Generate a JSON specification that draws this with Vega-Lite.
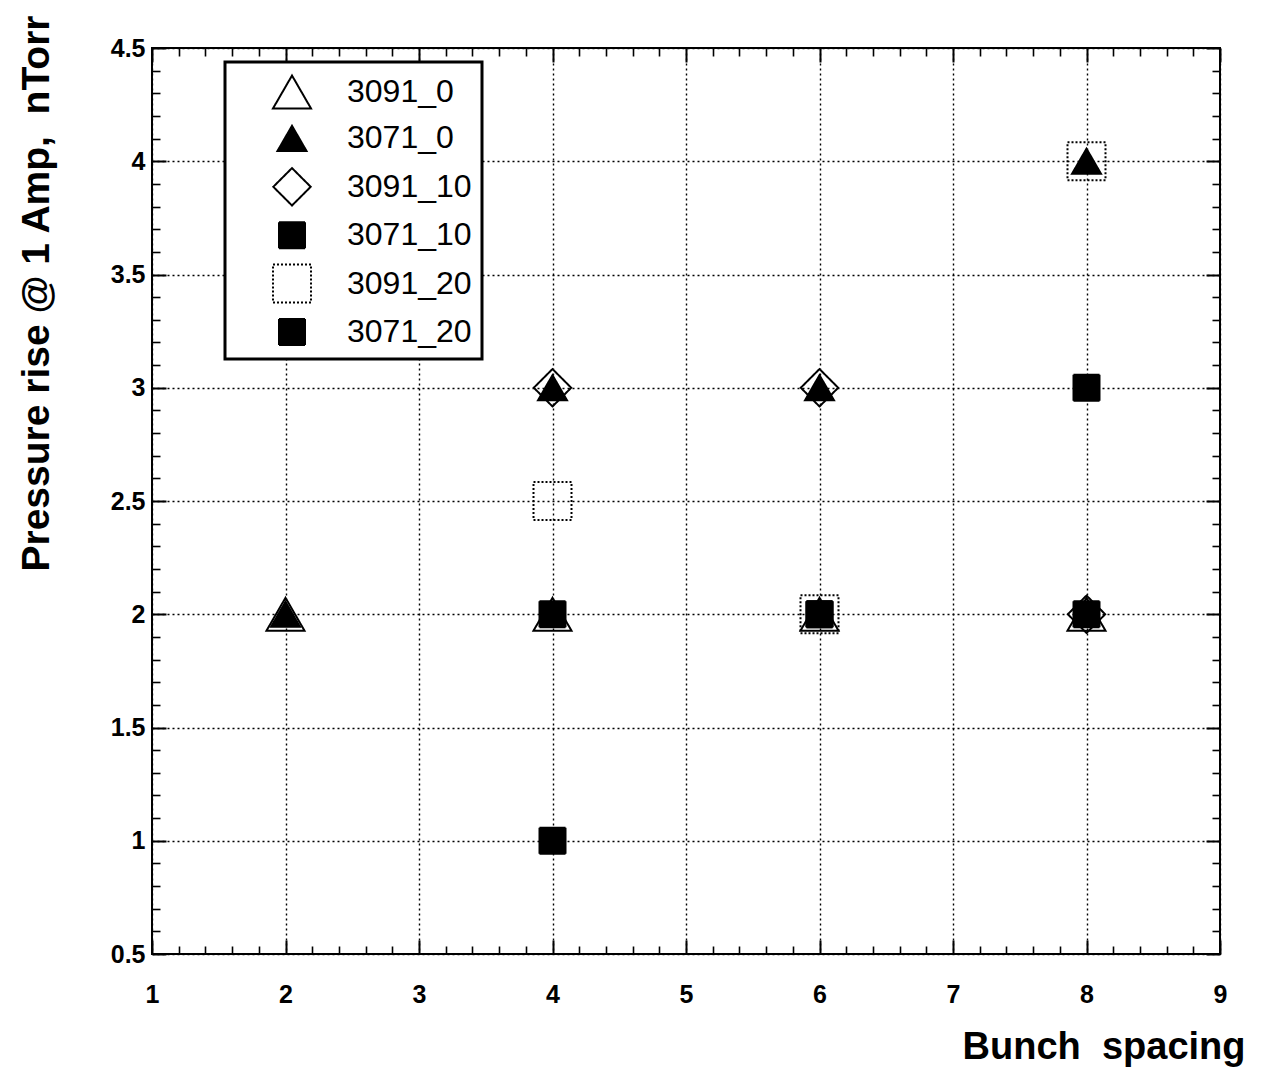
{
  "$schema": "https://vega.github.io/schema/vega-lite/v6.json",
  "autosize": {"type": "none"},
  "width": 1068,
  "height": 906,
  "padding": {"left": 152, "top": 48, "right": 46, "bottom": 124},
  "background": "white",
  "title": {"text": "Beginning of the study", "fontSize": 36, "fontWeight": "bold", "font": "Liberation Sans", "color": "black", "offset": 46, "baseline": "alphabetic", "dx": -21, "anchor": "middle"},
  "config": {
    "view": {"stroke": "black", "strokeWidth": 2},
    "font": "Liberation Sans",
    "axis": {"domain": false, "labelColor": "black", "titleColor": "black", "tickColor": "black"},
    "legend": {"strokeWidth": 3}
  },
  "data": {"values": [
    {"series": "3091_0", "x": 2, "y": 2},
    {"series": "3091_0", "x": 4, "y": 2},
    {"series": "3091_0", "x": 6, "y": 2},
    {"series": "3091_0", "x": 8, "y": 2},
    {"series": "3091_10", "x": 4, "y": 3},
    {"series": "3091_10", "x": 6, "y": 3},
    {"series": "3091_10", "x": 8, "y": 2},
    {"series": "3091_20", "x": 4, "y": 2.5},
    {"series": "3091_20", "x": 6, "y": 2},
    {"series": "3091_20", "x": 8, "y": 4},
    {"series": "3071_0", "x": 2, "y": 2},
    {"series": "3071_0", "x": 4, "y": 3},
    {"series": "3071_0", "x": 6, "y": 3},
    {"series": "3071_0", "x": 8, "y": 4},
    {"series": "3071_10", "x": 4, "y": 2},
    {"series": "3071_10", "x": 6, "y": 2},
    {"series": "3071_10", "x": 8, "y": 2},
    {"series": "3071_20", "x": 4, "y": 1},
    {"series": "3071_20", "x": 6, "y": 2},
    {"series": "3071_20", "x": 8, "y": 3}
  ]},
  "resolve": {"axis": {"x": "independent", "y": "independent"}},
  "layer": [
    {
      "mark": {"type": "point", "filled": true, "stroke": "black", "strokeWidth": 2, "opacity": 1},
      "encoding": {
        "x": {"field": "x", "type": "quantitative",
          "scale": {"domain": [1, 9], "nice": false, "zero": false},
          "axis": {"orient": "bottom", "values": [1,2,3,4,5,6,7,8,9], "format": "~g", "grid": true, "gridColor": "black", "gridDash": [2, 3], "gridWidth": 1.4, "gridOpacity": 1, "ticks": false, "labelPadding": 28, "labelFontSize": 25, "labelFontWeight": "bold", "labelBaseline": "top", "labelFlush": false, "title": "Bunch\u00a0 spacing", "titleFontSize": 38, "titleFontWeight": "bold", "titleAlign": "right", "titleBaseline": "alphabetic", "titleAnchor": null, "titleX": 1093, "titleY": 104}},
        "y": {"field": "y", "type": "quantitative",
          "scale": {"domain": [0.5, 4.5], "nice": false, "zero": false},
          "axis": {"orient": "left", "values": [0.5,1,1.5,2,2.5,3,3.5,4,4.5], "format": "~g", "grid": true, "gridColor": "black", "gridDash": [2, 3], "gridWidth": 1.4, "gridOpacity": 1, "ticks": false, "labelPadding": 7, "labelFontSize": 25, "labelFontWeight": "bold", "labelFlush": false, "title": "Pressure rise @ 1 Amp,\u00a0 nTorr", "titleFontSize": 39, "titleFontWeight": "bold", "titleAngle": 270, "titleAlign": "right", "titleBaseline": "alphabetic", "titleAnchor": null, "titleX": -104, "titleY": -33}},
        "shape": {"field": "series", "type": "nominal",
          "scale": {"type": "ordinal", "domain": ["3091_0", "3071_0", "3091_10", "3071_10", "3091_20", "3071_20"], "range": ["triangle-up", "triangle-up", "diamond", "square", "square", "square"]},
          "legend": {"orient": "none", "legendX": 73, "legendY": 14, "title": null, "fillColor": "white", "strokeColor": "black", "padding": 10, "symbolOffset": 37, "labelOffset": 35, "labelFontSize": 32, "labelColor": "black", "rowPadding": 8.4, "symbolStrokeColor": "black", "symbolStrokeWidth": 2,
            "encode": {"legend": {"update": {"strokeWidth": {"value": 3}}}}}},
        "size": {"field": "series", "type": "nominal",
          "scale": {"type": "ordinal", "domain": ["3091_0", "3071_0", "3091_10", "3071_10", "3091_20", "3071_20"], "range": [1444, 841, 1400, 676, 1444, 676]}},
        "fill": {"field": "series", "type": "nominal",
          "scale": {"domain": ["3091_0", "3071_0", "3091_10", "3071_10", "3091_20", "3071_20"], "range": ["transparent", "black", "transparent", "black", "transparent", "black"]}},
        "strokeDash": {"field": "series", "type": "nominal",
          "scale": {"domain": ["3091_0", "3071_0", "3091_10", "3071_10", "3091_20", "3071_20"], "range": [[1, 0], [1, 0], [1, 0], [1, 0], [2, 2], [1, 0]]}}
      }
    },
    {
      "mark": {"type": "point", "opacity": 0},
      "encoding": {
        "x": {"field": "x", "type": "quantitative", "axis": {"orient": "bottom", "values": [1,2,3,4,5,6,7,8,9], "labels": false, "grid": false, "tickSize": -14, "tickWidth": 2, "title": null}},
        "y": {"field": "y", "type": "quantitative", "axis": {"orient": "left", "values": [0.5,1,1.5,2,2.5,3,3.5,4,4.5], "labels": false, "grid": false, "tickSize": -14, "tickWidth": 2, "title": null}}
      }
    },
    {
      "mark": {"type": "point", "opacity": 0},
      "encoding": {
        "x": {"field": "x", "type": "quantitative", "axis": {"orient": "top", "values": [1,2,3,4,5,6,7,8,9], "labels": false, "grid": false, "tickSize": -14, "tickWidth": 2, "title": null}},
        "y": {"field": "y", "type": "quantitative", "axis": {"orient": "right", "values": [0.5,1,1.5,2,2.5,3,3.5,4,4.5], "labels": false, "grid": false, "tickSize": -14, "tickWidth": 2, "title": null}}
      }
    },
    {
      "mark": {"type": "point", "opacity": 0},
      "encoding": {
        "x": {"field": "x", "type": "quantitative", "axis": {"orient": "bottom", "values": [1.2,1.4,1.6,1.8,2.2,2.4,2.6,2.8,3.2,3.4,3.6,3.8,4.2,4.4,4.6,4.8,5.2,5.4,5.6,5.8,6.2,6.4,6.6,6.8,7.2,7.4,7.6,7.8,8.2,8.4,8.6,8.8], "labels": false, "grid": false, "tickSize": -8, "tickWidth": 1.6, "title": null}},
        "y": {"field": "y", "type": "quantitative", "axis": {"orient": "left", "values": [0.6,0.7,0.8,0.9,1.1,1.2,1.3,1.4,1.6,1.7,1.8,1.9,2.1,2.2,2.3,2.4,2.6,2.7,2.8,2.9,3.1,3.2,3.3,3.4,3.6,3.7,3.8,3.9,4.1,4.2,4.3,4.4], "labels": false, "grid": false, "tickSize": -8, "tickWidth": 1.6, "title": null}}
      }
    },
    {
      "mark": {"type": "point", "opacity": 0},
      "encoding": {
        "x": {"field": "x", "type": "quantitative", "axis": {"orient": "top", "values": [1.2,1.4,1.6,1.8,2.2,2.4,2.6,2.8,3.2,3.4,3.6,3.8,4.2,4.4,4.6,4.8,5.2,5.4,5.6,5.8,6.2,6.4,6.6,6.8,7.2,7.4,7.6,7.8,8.2,8.4,8.6,8.8], "labels": false, "grid": false, "tickSize": -8, "tickWidth": 1.6, "title": null}},
        "y": {"field": "y", "type": "quantitative", "axis": {"orient": "right", "values": [0.6,0.7,0.8,0.9,1.1,1.2,1.3,1.4,1.6,1.7,1.8,1.9,2.1,2.2,2.3,2.4,2.6,2.7,2.8,2.9,3.1,3.2,3.3,3.4,3.6,3.7,3.8,3.9,4.1,4.2,4.3,4.4], "labels": false, "grid": false, "tickSize": -8, "tickWidth": 1.6, "title": null}}
      }
    }
  ]
}
